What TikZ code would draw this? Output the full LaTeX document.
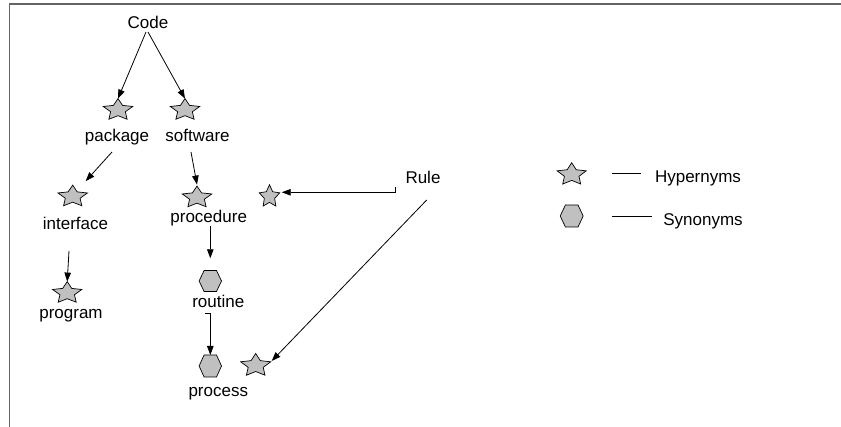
\documentclass[tikz,border=0pt]{standalone}
\usepackage{fontspec}
\setmainfont{Liberation Sans}
\usetikzlibrary{arrows.meta,calc}
\definecolor{symbfill}{RGB}{192,192,192}
\definecolor{framegray}{RGB}{100,100,100}
\tikzset{
  hid/.style={inner sep=0pt, outer sep=0pt, draw=none},
  symb/.style={draw=black, fill=symbfill, line width=0.7pt, line join=miter},
  lbl/.style={inner sep=0pt, anchor=base, font=\fontsize{17}{20}\selectfont},
  conn/.style={draw=black, line width=0.8pt, -{Triangle[length=9pt,width=6.5pt]}},
  legline/.style={draw=black, line width=0.8pt},
  frameline/.style={draw=framegray, line width=1.6pt},
}
% star symbol: name, x, y, rx, ry, minimum width, minimum height
\newcommand\starsym[7]{%
  \node[hid, minimum width=#6pt, minimum height=#7pt] (#1) at (#2,#3) {};
  \filldraw[symb, shift={(#1.center)}] plot[samples at={0,1,...,9}, variable=\k]
    ({(0.75+0.25*cos(180*\k))*#4*cos(270+36*\k)}, {(0.75+0.25*cos(180*\k))*#5*sin(270+36*\k)}) -- cycle;
}
% hexagon symbol: name, x, y, half width, half top edge, half height
\newcommand\hexsym[6]{%
  \node[hid, minimum width=2*#4pt, minimum height=2*#6pt] (#1) at (#2,#3) {};
  \filldraw[symb, shift={(#1.center)}] (#4,0) -- (#5,#6) -- (-#5,#6) -- (-#4,0) -- (-#5,-#6) -- (#5,-#6) -- cycle;
}
\begin{document}
\begin{tikzpicture}[x=1pt,y=-1pt]
\useasboundingbox (0,0) rectangle (841,427);
\draw[frameline] (9.5,427) -- (9.5,4) -- (841,4);

% labels
\node[lbl] (code) at (148,28.3) {Code};
\node[lbl] (pkglbl) at (117,141.5) {package};
\node[lbl] (swlbl) at (197.5,141.5) {software};
\node[lbl] (ifclbl) at (75.5,229.3) {interface};
\node[lbl] (proclbl) at (208.7,222.7) {procedure};
\node[lbl] (routlbl) at (218.3,307.3) {routine};
\node[lbl] (proglbl) at (71,318.3) {program};
\node[lbl] (prclbl) at (218.3,396.5) {process};
\node[lbl] (rule) at (423,183.3) {Rule};
\node[lbl] (hyplbl) at (698,182.7) {Hypernyms};
\node[lbl] (synlbl) at (703,226) {Synonyms};

% symbols
\starsym{pkg}{118}{110}{15.5}{11.4}{29.5}{22.8}
\starsym{sw}{185}{110}{15.5}{11.4}{29.5}{22.8}
\starsym{ifc}{72.7}{196.5}{15.5}{11.4}{29.5}{22.8}
\starsym{proc}{197}{197.5}{15.5}{11.4}{29.5}{22.8}
\starsym{rstar}{269.5}{196.5}{10.8}{11.8}{20.5}{23.6}
\starsym{prog}{67.2}{293}{15.3}{11.4}{29.1}{22.8}
\starsym{pstar}{255.7}{365.5}{15.8}{12}{30}{24}
\starsym{legstar}{571.7}{174.5}{15.3}{11.8}{29.1}{23.6}
\hexsym{rout}{210.3}{281}{11.2}{6.2}{10.5}
\hexsym{prc}{210.3}{366}{11.2}{6.2}{11}
\hexsym{leghex}{571.7}{216}{11.5}{6.3}{11}

% connectors
\draw[conn] ($(code.base)+(-2,3.7)$) -- (pkg.north);
\draw[conn] ($(code.base)+(0,3.7)$) -- (sw.north);
\draw[conn] ($(pkglbl.base)+(-5,10.5)$) -- ($(ifc.north)+(13,-4)$);
\draw[conn] ($(swlbl.base)+(-6.5,10.5)$) -- ($(proc.north)+(0,-1.5)$);
\draw[conn] ($(ifclbl.base)+(-6.5,21.7)$) -- (prog.north);
\draw[conn] ($(proclbl.base)+(1.6,3.3)$) -- ($(rout.north)+(0,-12.2)$);
\draw[conn] ($(routlbl.base)+(-13.3,6)$) -| (prc.north);
\draw[conn] ($(rule.base)+(-27.3,3.7)$) |- ($(rstar.center)+(12.2,-4.2)$);
\draw[conn] ($(rule.base)+(3.7,16.7)$) -- ($(pstar.center)+(16,-4.5)$);

% legend lines
\draw[legline] ($(legstar.east)+(25.4,-1.2)$) -- ($(hyplbl.base west)+(-14,-9.4)$);
\draw[legline] ($(leghex.east)+(28.5,0)$) -- ($(synlbl.base west)+(-11.5,-10)$);
\end{tikzpicture}
\end{document}
